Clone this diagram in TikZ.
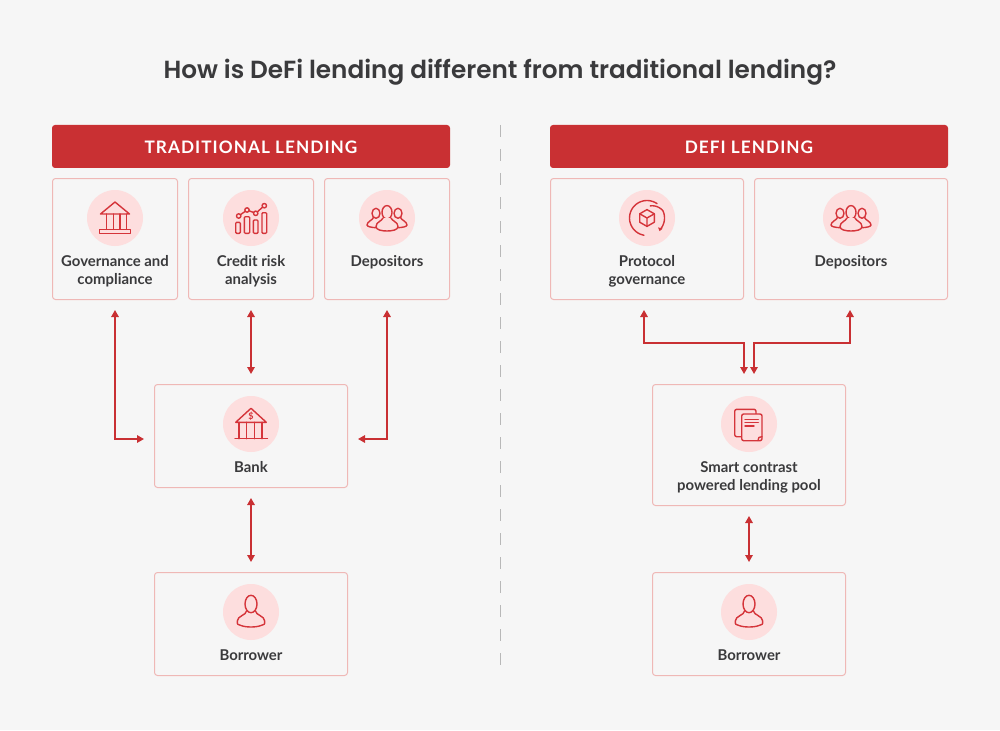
\documentclass[tikz,border=0pt]{standalone}
\usepackage{fontspec}
\usetikzlibrary{arrows.meta,calc}
\setmainfont{Lato}
\newfontfamily\titlefont{Poppins SemiBold}
\newfontfamily\headfont[LetterSpace=6,BoldFont={Lato Bold}]{Lato}
\definecolor{bgc}{HTML}{F6F6F6}
\definecolor{redc}{HTML}{C93033}
\definecolor{iconc}{HTML}{D5343A}
\definecolor{pinkc}{HTML}{FDDEDE}
\definecolor{edgec}{HTML}{EFB8B6}
\definecolor{txtc}{HTML}{3A3A3C}
\definecolor{divc}{HTML}{B8B8B8}
\tikzset{
  x=1pt,y=-1pt,
  card/.style={draw=edgec,line width=1pt,rounded corners=3pt,fill=bgc,inner sep=0pt,outer sep=0pt},
  header/.style={fill=redc,rounded corners=3pt,inner sep=0pt,outer sep=0pt,minimum height=43pt,minimum width=398pt,text=white,text height=14.4pt,text depth=0pt,font=\headfont\bfseries\fontsize{17.2}{20}\selectfont},
  disc/.style={circle,fill=pinkc,minimum size=56pt,inner sep=0pt,outer sep=0pt},
  lbl/.style={align=center,text=txtc,inner sep=0pt,font=\bfseries\fontsize{14.9}{18}\selectfont},
  link/.style={draw=redc,line width=1.5pt,{Triangle[length=7pt,width=7.5pt]}-{Triangle[length=7pt,width=7.5pt]},shorten <=10.5pt,shorten >=10.5pt},
  linkb/.style={draw=redc,line width=1.5pt,{Triangle[length=7pt,width=7.5pt]}-{Triangle[length=7pt,width=7.5pt]}},
  icon/.style={draw=iconc,line width=1.4pt,line join=round,line cap=round},
}
\newcommand{\icongov}[1]{\begin{scope}[shift={(#1.center)},icon]
  \draw (-14.5,-4) -- (0,-16) -- (14.5,-4) -- cycle;
  \draw (-8.5,-4) -- (-8.5,11.3) (-1.5,-4) -- (-1.5,11.3) (5,-4) -- (5,11.3) (11.5,-4) -- (11.5,11.3);
  \draw (-15.7,11.3) rectangle (15.7,15.3);
\end{scope}}
\newcommand{\iconchart}[1]{\begin{scope}[shift={(#1.center)},icon]
  \draw[rounded corners=1pt] (-15.3,4.3) rectangle (-10.7,15.3);
  \draw[rounded corners=1pt] (-6.7,-1.3) rectangle (-1.3,15.3);
  \draw[rounded corners=1pt] (2.3,2) rectangle (7,15.3);
  \draw[rounded corners=1pt] (11,-5.3) rectangle (15.7,15.3);
  \draw (-12.3,-2) circle (2.2) (-4,-8) circle (2.2) (4.7,-4.7) circle (2.2) (13.3,-12.3) circle (2.2);
  \draw (-10.4,-3.4) -- (-5.9,-6.6) (-1.9,-7.2) -- (2.6,-5.5) (6.4,-6.2) -- (11.6,-10.8);
\end{scope}}
\newcommand{\iconpeople}[1]{\begin{scope}[shift={(#1.center)},icon]
  \draw (-11,-4.7) ellipse (4 and 5);
  \draw (11,-4.7) ellipse (4 and 5);
  \draw (-13.5,-0.6) .. controls (-14,2) and (-20,3.5) .. (-20,7) .. controls (-20,8.5) and (-16,9.5) .. (-11,9.7);
  \draw (13.5,-0.6) .. controls (14,2) and (20,3.5) .. (20,7) .. controls (20,8.5) and (16,9.5) .. (11,9.7);
  \draw[fill=pinkc] (0,-5.7) ellipse (5 and 6.7);
  \draw[fill=pinkc] (-4,0) .. controls (-5,3) and (-11,4) .. (-11,8.5) .. controls (-11,12) and (-5,13) .. (0,13) .. controls (5,13) and (11,12) .. (11,8.5) .. controls (11,4) and (5,3) .. (4,0);
\end{scope}}
\newcommand{\iconbank}[2]{\begin{scope}[shift={(#1.center)},icon]
  \draw (-15.3,-1.7) -- (0,-15.7) -- (15.3,-1.7) -- cycle;
  \draw (-12,-1.7) -- (-12,14.7) (-4.3,-1.7) -- (-4.3,14.7) (3.3,-1.7) -- (3.3,14.7) (11,-1.7) -- (11,14.7);
  \draw (-16,14.7) -- (16.5,14.7);
  \node[text=iconc,inner sep=0pt,font=\bfseries\fontsize{9}{9}\selectfont] (#2) at (0,-7.3) {\$};
\end{scope}}
\newcommand{\iconproto}[1]{\begin{scope}[shift={(#1.center)},icon]
  \draw plot[smooth,samples=30,domain=100:305] ({17.5*cos(\x)},{17.5*sin(\x)});
  \draw plot[smooth,samples=25,domain=-75:38] ({(12.5+5*min(1,(\x+75)/50))*cos(\x)},{(12.5+5*min(1,(\x+75)/50))*sin(\x)});
  \draw (-7.3,-4.2) -- (0,-8.4) -- (7.3,-4.2) -- (7.3,4.2) -- (0,8.4) -- (-7.3,4.2) -- cycle;
  \draw (-7.3,-4.2) -- (0,0) -- (7.3,-4.2) (0,0) -- (0,8.4);
  \fill[iconc] (12.6,13.2) -- (11,9.4) -- (15.6,10.6) -- cycle;
\end{scope}}
\newcommand{\icondoc}[1]{\begin{scope}[shift={(#1.center)},icon]
  \draw[rounded corners=2pt] (-7.3,12.7) -- (-14.3,12.7) -- (-14.3,-14.7) -- (7,-14.7) -- (7,-10);
  \draw[rounded corners=2pt,fill=pinkc] (-7.3,-10) rectangle (13,16.7);
  \draw (-4,-4.7) -- (9.3,-4.7) (-4,-1.3) -- (9.3,-1.3) (-4,2) -- (5,2);
  \draw (9,16.5) .. controls (9,13.5) and (10,12.7) .. (13,12.7);
\end{scope}}
\newcommand{\iconperson}[1]{\begin{scope}[shift={(#1.center)},icon]
  \draw (0,-8) ellipse (6 and 8.7);
  \draw (-4.5,-1) .. controls (-4.5,3) and (-13.7,4) .. (-13.7,9) .. controls (-13.7,13) and (-13.7,12) .. (-10,13.5) .. controls (-5,15.5) and (5,15.5) .. (10,13.5) .. controls (13.7,12) and (13.7,13) .. (13.7,9) .. controls (13.7,4) and (4.5,3) .. (4.5,-1);
\end{scope}}
\begin{document}
\begin{tikzpicture}
\useasboundingbox (0,0) rectangle (1000,730);
\fill[bgc] (0,0) rectangle (1000,730);
\node[inner sep=0pt,text=txtc,font=\titlefont\fontsize{24.75}{30}\selectfont] (title) at (500,72.5) {How is DeFi lending different from traditional lending?};
\draw[divc,line width=1pt,dash pattern=on 12pt off 12pt] (500,125) -- (500,666);
\node[header] (hl) at (251,146.5) {TRADITIONAL LENDING};
\node[header] (hr) at (749,146.5) {DEFI LENDING};
% cards
\node[card,minimum width=125pt,minimum height=121pt] (gov) at (115,239) {};
\node[card,minimum width=125pt,minimum height=121pt] (credit) at (251,239) {};
\node[card,minimum width=125pt,minimum height=121pt] (depl) at (387,239) {};
\node[card,minimum width=193pt,minimum height=103pt] (bank) at (251,436) {};
\node[card,minimum width=193pt,minimum height=103pt] (borl) at (251,624) {};
\node[card,minimum width=193pt,minimum height=121pt] (prot) at (647,239) {};
\node[card,minimum width=193pt,minimum height=121pt] (depr) at (851,239) {};
\node[card,minimum width=193pt,minimum height=121pt] (pool) at (749,445) {};
\node[card,minimum width=193pt,minimum height=103pt] (borr) at (749,624) {};
% discs
\node[disc] (dgov) at (115,218) {};
\node[disc] (dcredit) at (251,218) {};
\node[disc] (ddepl) at (387,218) {};
\node[disc] (dbank) at (251,424) {};
\node[disc] (dborl) at (251,612) {};
\node[disc] (dprot) at (647,218) {};
\node[disc] (ddepr) at (851,218) {};
\node[disc] (dpool) at (749,424) {};
\node[disc] (dborr) at (749,612) {};
% icons
\icongov{dgov}
\iconchart{dcredit}
\iconpeople{ddepl}
\iconbank{dbank}{dollar}
\iconperson{dborl}
\iconproto{dprot}
\iconpeople{ddepr}
\icondoc{dpool}
\iconperson{dborr}
% labels
\node[lbl] (tgov) at (115,271) {Governance and\\compliance};
\node[lbl] (tcredit) at (251,271) {Credit risk\\analysis};
\node[lbl] (tdepl) at (387,262) {Depositors};
\node[lbl] (tbank) at (251,467) {Bank};
\node[lbl] (tborl) at (251,655) {Borrower};
\node[lbl] (tprot) at (647,271) {Protocol\\governance};
\node[lbl] (tdepr) at (851,262) {Depositors};
\node[lbl] (tpool) at (749,477.5) {Smart contrast\\powered lending pool};
\node[lbl] (tborr) at (749,655) {Borrower};
% connectors
\coordinate (bl) at ($(bank.west)+(0,3)$);
\coordinate (br) at ($(bank.east)+(0,3)$);
\draw[link] (gov.south) |- (bl);
\draw[link] (credit.south) -- (bank.north);
\draw[link] (depl.south) |- (br);
\draw[link] (bank.south) -- (borl.north);
\draw[link] (pool.south) -- (borr.north);
\coordinate (pa) at ($(prot.south)+(-3,10.5)$);
\coordinate (pb) at ($(pool.north)+(-5,-10.5)$);
\coordinate (qa) at ($(depr.south)+(-1,10.5)$);
\coordinate (qb) at ($(pool.north)+(5,-10.5)$);
\draw[linkb] (pa) -- ($(pa)+(0,33)$) -| (pb);
\draw[linkb] (qa) -- ($(qa)+(0,33)$) -| (qb);
\end{tikzpicture}
\end{document}
